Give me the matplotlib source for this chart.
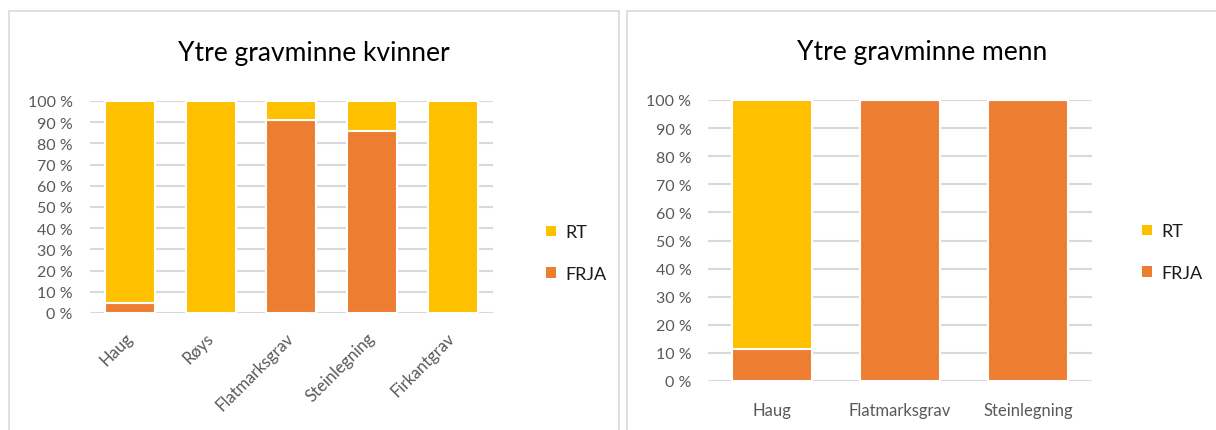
import matplotlib
matplotlib.use("Agg")
import matplotlib.pyplot as plt
from matplotlib.patches import Rectangle, Patch
from matplotlib.transforms import ScaledTranslation

plt.rcParams['font.family'] = ['Lato', 'DejaVu Sans']

# Data
cats_kvinner = ["Haug", "Røys", "Flatmarksgrav", "Steinlegning", "Firkantgrav"]
frja_kvinner = [4.5, 0, 91, 86, 0]
rt_kvinner = [95.5, 100, 9, 14, 100]

cats_menn = ["Haug", "Flatmarksgrav", "Steinlegning"]
frja_menn = [11.5, 100, 100]
rt_menn = [88.5, 0, 0]

yticks = list(range(0, 101, 10))
ytick_labels = [f"{v} %" for v in yticks]

C_RT = "#FFC000"
C_FRJA = "#ED7D31"
GRID = "#D9D9D9"
TXT = "#595959"

W, H = 1216, 431
fig = plt.figure(figsize=(W / 100, H / 100), dpi=100)

def px(x, y, w, h):
    return [x / W, (H - y - h) / H, w / W, h / H]

# panel borders
for (x0, x1) in [(8.5, 618.5), (627, 1240)]:
    fig.patches.append(Rectangle((x0 / W, -0.05), (x1 - x0) / W, (H - 12) / H + 0.05,
                                 transform=fig.transFigure, fill=False,
                                 edgecolor="#D9D9D9", linewidth=1.2))

def draw(ax, cats, frja, rt, rotate):
    xs = list(range(len(cats)))
    ax.bar(xs, frja, width=0.62, color=C_FRJA, edgecolor="white", linewidth=1.5, zorder=3)
    ax.bar(xs, rt, bottom=frja, width=0.62, color=C_RT, edgecolor="white", linewidth=1.5, zorder=3)
    ax.set_xlim(-0.5, len(cats) - 0.5)
    ax.set_ylim(0, 100)
    ax.set_yticks(yticks)
    ax.set_yticklabels(ytick_labels, color=TXT, fontsize=11.5)
    ax.set_xticks(xs)
    if rotate:
        labels = ax.set_xticklabels(cats, rotation=45, ha="right", va="center",
                                    rotation_mode="anchor", color=TXT, fontsize=12)
        ax.tick_params(axis="x", pad=16)
        off = ScaledTranslation(4 / 100, -3 / 100, fig.dpi_scale_trans)
        for lab in labels:
            lab.set_transform(lab.get_transform() + off)
    else:
        ax.set_xticklabels(cats, color=TXT, fontsize=12)
        ax.tick_params(axis="x", pad=15)
    ax.tick_params(length=0)
    ax.tick_params(axis="y", pad=12)
    for s in ax.spines.values():
        s.set_visible(False)
    ax.yaxis.grid(True, color=GRID, linewidth=1.5, zorder=0)
    ax.set_axisbelow(True)

axL = fig.add_axes(px(89.5, 102, 403.5, 212))
draw(axL, cats_kvinner, frja_kvinner, rt_kvinner, True)
axR = fig.add_axes(px(708, 101, 384, 281))
draw(axR, cats_menn, frja_menn, rt_menn, False)

fig.text(314 / W, 1 - 61 / H, "Ytre gravminne kvinner", ha="center", va="baseline",
         fontsize=19, color="black")
fig.text(922 / W, 1 - 60 / H, "Ytre gravminne menn", ha="center", va="baseline",
         fontsize=19, color="black")

handles = [Patch(facecolor=C_RT, label="RT"), Patch(facecolor=C_FRJA, label="FRJA")]
for (lx, ly) in [(530, 254), (1126, 253)]:
    fig.legend(handles=handles, loc="center left", bbox_to_anchor=(lx / W, 1 - ly / H),
               frameon=False, fontsize=13, handlelength=0.55, handleheight=0.55,
               handletextpad=0.5, labelspacing=1.4, labelcolor="#1a1a1a")

fig.savefig("out.png", dpi=100)
